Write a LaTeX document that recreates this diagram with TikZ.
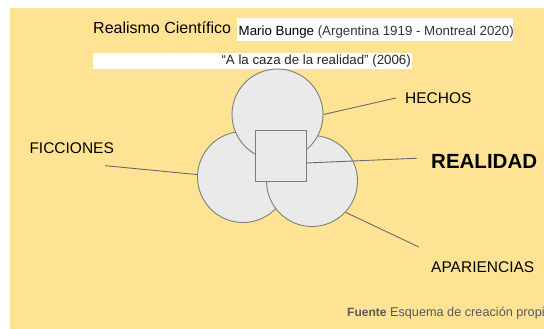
\documentclass[tikz,border=0pt]{standalone}
\usepackage{fontspec}
\setmainfont{Liberation Sans}
\usetikzlibrary{calc}
\definecolor{fondo}{RGB}{255,227,148}
\definecolor{disco}{RGB}{234,234,234}
\definecolor{borde}{RGB}{125,125,125}
\definecolor{linea}{RGB}{105,105,105}
\definecolor{gris}{RGB}{89,89,89}

\begin{document}
\begin{tikzpicture}[x=1pt,y=-1pt,
  disc/.style={circle,draw=borde,fill=disco,line width=0.9pt,minimum size=91pt,inner sep=0pt},
  lab/.style={inner sep=0pt,anchor=base west,font=\fontsize{15.5}{18}\selectfont},
  con/.style={draw=linea,line width=0.9pt}]
\useasboundingbox (0,0) rectangle (544,329);
\clip (0,0) rectangle (544,329);
% fondo y cajas blancas
\fill[fondo] (10,8) rectangle (544,329);
\fill[white] (237,18) rectangle (513,41);
\fill[white] (93,53) rectangle (412,69);

% titulos
\node[anchor=base west,inner sep=0pt,font=\fontsize{16}{19}\selectfont] (titulo) at (93,34) {Realismo Científico};
\node[anchor=base west,inner sep=0pt,font=\fontsize{13.3}{16}\selectfont] (autor) at (238.5,36) {Mario Bunge \textcolor{black!80}{(Argentina 1919 - Montreal 2020)}};
\node[anchor=base east,inner sep=0pt,font=\fontsize{13.3}{16}\selectfont,text=black!85] (libro) at (411,65) {“A la caza de la realidad” (2006)};

% circulos y cuadrado
\node[disc] (left) at (243,177) {};
\node[disc] (right) at (312,181) {};
\node[disc] (top) at (277.5,114.5) {};
\node[draw=borde,fill=disco,line width=0.9pt,minimum size=51pt,inner sep=0pt] (sq) at (280.5,155.5) {};

% etiquetas
\node[lab] (hechos) at (405,103.3) {HECHOS};
\node[lab,font=\fontsize{20.5}{24}\selectfont\bfseries] (realidad) at (431,168.3) {REALIDAD};
\node[lab] (apar) at (431,272.7) {APARIENCIAS};
\node[lab] (ficc) at (29.3,153.3) {FICCIONES};
\node[anchor=base west,inner sep=0pt,font=\fontsize{12}{14}\selectfont,text=gris] (fuente) at (347,316) {\textbf{Fuente}\fontsize{12.7}{14}\selectfont{} Esquema de creación propia};

% conectores
\draw[con] (top.east) -- ($(hechos.west)+(-9,0)$);
\draw[con] ($(sq.east)+(0,7.5)$) -- ($(realidad.west)+(-14,-3)$);
\draw[con] (right.-43) -- ($(apar.north west)+(-12,-14.6)$);
\draw[con] ($(ficc.south east)+(-9,12)$) -- (left.177);
\end{tikzpicture}
\end{document}
